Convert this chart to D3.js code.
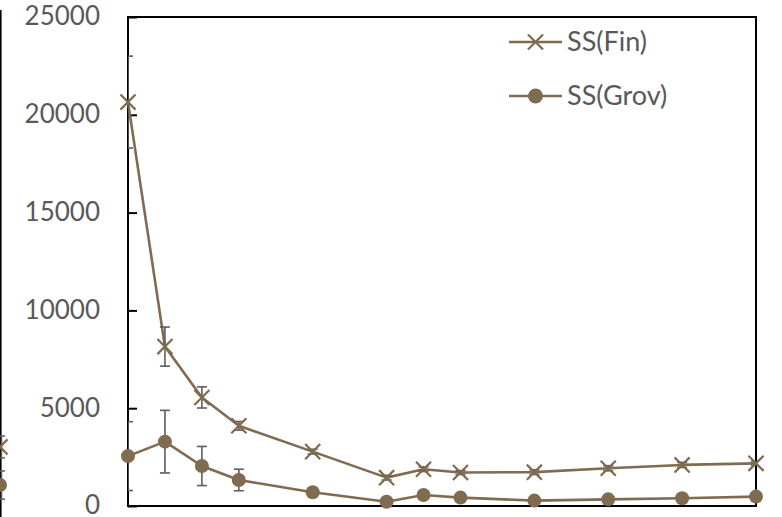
<!DOCTYPE html>
<html>
<head>
<meta charset="utf-8">
<script src="https://cdn.jsdelivr.net/npm/d3@7"></script>
<style>
  html, body { margin: 0; padding: 0; background: #fff; }
  svg { display: block; }
  text { font-family: Lato, "Liberation Sans", sans-serif; fill: #595959; }
</style>
</head>
<body>
<svg id="chart" width="782" height="517"></svg>
<script>
// Sampling positions (x) and the two series with their error margins
const xValues   = [0, 1, 2, 3, 5, 7, 8, 9, 11, 13, 15, 17];
const finValues = [20650, 8150, 5550, 4100, 2780, 1450, 1880, 1710, 1730, 1930, 2100, 2180];
const finErrors = [2350, 1000, 540, 220, 120, 120, 120, 100, 120, 130, 130, 100];
const grovValues = [2550, 3290, 2045, 1330, 700, 220, 565, 430, 275, 340, 395, 480];
const grovErrors = [1760, 1600, 1000, 550, 80, 60, 60, 60, 60, 60, 60, 60];
const yTicks = [0, 5000, 10000, 15000, 20000, 25000];
const seriesNames = ["SS(Fin)", "SS(Grov)"];

// Last points of the neighbouring panel, visible at the left edge
const prevFin = [3020], prevFinErr = [560];
const prevGrov = [1070], prevGrovErr = [720];

const color = "#7f6b4f";
const errColor = "#5e5e5e";

const svg = d3.select("#chart");
const plot = { left: 128, right: 756, top: 17, bottom: 506 };

const x = d3.scaleLinear().domain([0, 17]).range([plot.left, plot.right]);
const y = d3.scaleLinear().domain([0, 25000]).range([plot.bottom, plot.top]);

// Neighbouring panel border and its final markers
svg.append("line")
  .attr("x1", 0.8).attr("x2", 0.8).attr("y1", 10).attr("y2", 517)
  .attr("stroke", "#000").attr("stroke-width", 1.6);
function prevErr(v, e) {
  const g = svg.append("g").attr("stroke", errColor).attr("stroke-width", 1.5);
  g.append("line").attr("x1", 1.5).attr("x2", 1.5).attr("y1", y(v + e)).attr("y2", y(v - e));
  g.append("line").attr("x1", 0).attr("x2", 5).attr("y1", y(v + e)).attr("y2", y(v + e));
  g.append("line").attr("x1", 0).attr("x2", 5).attr("y1", y(v - e)).attr("y2", y(v - e));
}
prevErr(prevFin[0], prevFinErr[0]);
prevErr(prevGrov[0], prevGrovErr[0]);
svg.append("path")
  .attr("d", d3.symbol(d3.symbolTimes, 150)())
  .attr("transform", `translate(0,${y(prevFin[0])})`)
  .attr("stroke", color).attr("stroke-width", 2.2).attr("fill", "none");
svg.append("circle").attr("cx", 0).attr("cy", y(prevGrov[0])).attr("r", 7).attr("fill", color);

// Y axis with inward ticks
const yAxis = d3.axisLeft(y).tickValues(yTicks).tickSizeInner(-9).tickSizeOuter(0).tickPadding(28)
  .tickFormat(d3.format("d"));
const gy = svg.append("g").attr("transform", `translate(${plot.left},0)`).call(yAxis);
gy.select(".domain").remove();
gy.selectAll(".tick line").attr("stroke", "#000").attr("stroke-width", 2);
gy.selectAll(".tick text")
  .attr("font-size", 26)
  .attr("dy", "0.3em")
  .attr("font-family", "Lato, 'Liberation Sans', sans-serif")
  .attr("fill", "#595959");

// Plot frame
svg.append("rect")
  .attr("x", plot.left).attr("y", plot.top)
  .attr("width", plot.right - plot.left).attr("height", plot.bottom - plot.top)
  .attr("fill", "none").attr("stroke", "#000").attr("stroke-width", 2);

// Clip for error bars
svg.append("clipPath").attr("id", "plotClip").append("rect")
  .attr("x", plot.left).attr("y", plot.top)
  .attr("width", plot.right - plot.left).attr("height", plot.bottom - plot.top);

const fin = xValues.map((v, i) => ({ x: v, y: finValues[i], e: finErrors[i] }));
const grov = xValues.map((v, i) => ({ x: v, y: grovValues[i], e: grovErrors[i] }));

const line = d3.line().x(d => x(d.x)).y(d => y(d.y));

function drawLine(data) {
  svg.append("path").datum(data).attr("d", line)
    .attr("fill", "none").attr("stroke", color).attr("stroke-width", 2.6)
    .attr("stroke-linejoin", "round");
}
function drawErrors(data) {
  const g = svg.append("g").attr("clip-path", "url(#plotClip)")
    .attr("stroke", errColor).attr("stroke-width", 1.6);
  const cap = 5;
  data.forEach(d => {
    const cx = x(d.x), y1 = y(d.y + d.e), y2 = y(d.y - d.e);
    g.append("line").attr("x1", cx).attr("x2", cx).attr("y1", y1).attr("y2", y2);
    g.append("line").attr("x1", cx - cap).attr("x2", cx + cap).attr("y1", y1).attr("y2", y1);
    g.append("line").attr("x1", cx - cap).attr("x2", cx + cap).attr("y1", y2).attr("y2", y2);
  });
}
const crossPath = d3.symbol(d3.symbolTimes, 150)();
function drawCrosses(data) {
  svg.append("g").selectAll("path").data(data).join("path")
    .attr("d", crossPath)
    .attr("transform", d => `translate(${x(d.x)},${y(d.y)})`)
    .attr("fill", "none").attr("stroke", color).attr("stroke-width", 2.2);
}
function drawDots(data) {
  svg.append("g").selectAll("circle").data(data).join("circle")
    .attr("cx", d => x(d.x)).attr("cy", d => y(d.y)).attr("r", 7)
    .attr("fill", color);
}

drawErrors(grov);
drawLine(grov);
drawDots(grov);
drawLine(fin);
drawErrors(fin);
drawCrosses(fin);

// Legend
const legend = svg.append("g");
const legendRows = [{ name: seriesNames[0], y: 42, type: "cross" }, { name: seriesNames[1], y: 96, type: "dot" }];
legendRows.forEach(r => {
  legend.append("line").attr("x1", 509).attr("x2", 562).attr("y1", r.y).attr("y2", r.y)
    .attr("stroke", color).attr("stroke-width", 2.6);
  if (r.type === "cross") {
    legend.append("path").attr("d", crossPath).attr("transform", `translate(535.5,${r.y})`)
      .attr("fill", "none").attr("stroke", color).attr("stroke-width", 2.2);
  } else {
    legend.append("circle").attr("cx", 535.5).attr("cy", r.y).attr("r", 7.5).attr("fill", color);
  }
  legend.append("text").attr("x", 567).attr("y", r.y).attr("dy", "0.35em")
    .attr("font-size", 27).text(r.name);
});
</script>
</body>
</html>
